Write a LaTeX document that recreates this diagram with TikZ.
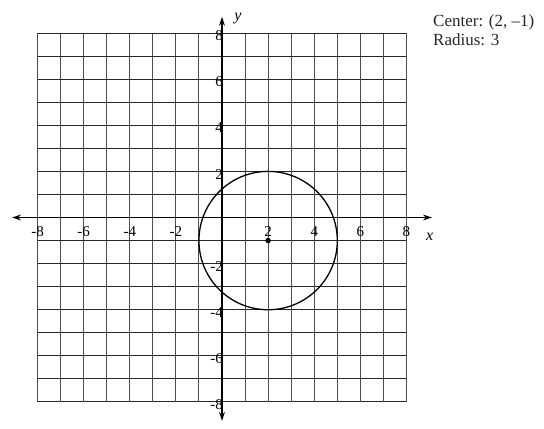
\documentclass[tikz,border=0pt]{standalone}
\usepackage{fontspec}
\setmainfont{Liberation Serif}
\usetikzlibrary{arrows.meta}
\begin{document}
\begin{tikzpicture}[x=23.06pt,y=23.06pt,
  gridline/.style={line width=1pt,draw=black!85},
  vgridline/.style={line width=0.9pt,draw=black!70},
  axisline/.style={line width=1.1pt,draw=black,{Stealth[length=9pt,width=6pt]}-{Stealth[length=9pt,width=6pt]}},
  xtick/.style={anchor=north,inner sep=0pt,font=\fontsize{15}{15}\selectfont},
  ytick/.style={anchor=east,inner sep=0pt,font=\fontsize{15}{15}\selectfont},
  axlabel/.style={inner sep=0pt,font=\fontsize{16}{16}\selectfont\itshape},
  info/.style={anchor=north west,inner sep=0pt,align=left,text=black!85,font=\fontsize{17}{19}\selectfont}]
\useasboundingbox (-9.627,-9.128) rectangle (13.963,9.432);
% grid
\foreach \k in {-8,...,8} {
  \draw[gridline] (-8,\k) -- (8,\k);
  \draw[vgridline] (\k,-8) -- (\k,8);
}
% axes
\coordinate (xl) at (-9.1,0);
\coordinate (xr) at (9.1,0);
\coordinate (yb) at (0,-8.82);
\coordinate (yt) at (0,8.7);
\draw[axisline] (xl) -- (xr);
\draw[axisline] (yb) -- (yt);
\node[axlabel] (xname) at (9.0,-0.85) {x};
\node[axlabel] (yname) at (0.69,8.62) {y};
% tick labels
\foreach \k in {-8,-6,-4,-2,2,4,6,8} {
  \node[xtick] (xt\k) at (\k,-0.38) {\ifnum\k<0 -\number-\k\else\k\fi};
  \node[ytick] (yt\k) at (0.05,\k-0.12) {\ifnum\k<0 -\number-\k\else\k\fi};
}
% circle
\node[circle,fill=black,inner sep=0pt,minimum size=5.5pt] (ctr) at (2,-1) {};
\draw[line width=1.3pt] (ctr.center) circle[radius=3];
% info text
\node[info] (info) at (9.15,8.8) {Center: (2, \textendash1)\\Radius: 3};
\end{tikzpicture}
\end{document}
